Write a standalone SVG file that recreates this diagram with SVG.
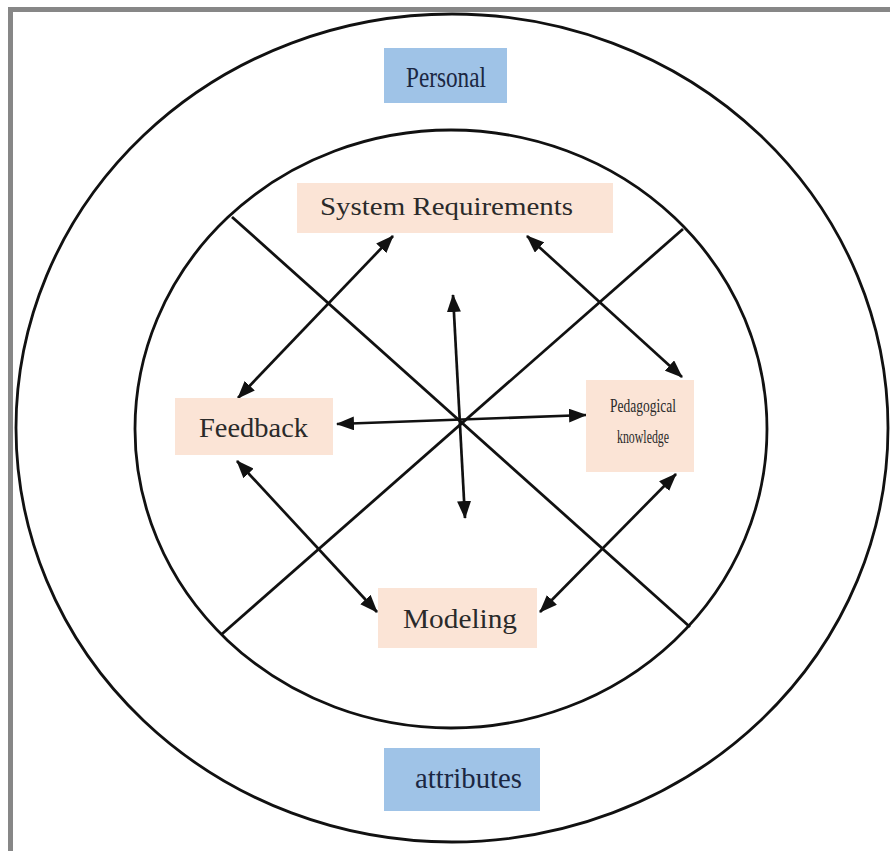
<svg xmlns="http://www.w3.org/2000/svg" width="890" height="851" viewBox="0 0 890 851">
  <defs>
    <marker id="head" viewBox="0 0 18 14" refX="17" refY="7" markerWidth="18" markerHeight="14" markerUnits="userSpaceOnUse" orient="auto-start-reverse">
      <path d="M0,0 L18,7 L0,14 Z" fill="#111"/>
    </marker>
    <style>
      .ring { fill: none; stroke: #111; stroke-width: 2.8; }
      .cross { stroke: #111; stroke-width: 2.8; }
      .link { stroke: #111; stroke-width: 2.7; fill: none; marker-start: url(#head); marker-end: url(#head); }
      .blue { fill: #9fc3e7; }
      .peach { fill: #fbe4d6; }
      .lbl { font-family: "Liberation Serif", "Times New Roman", serif; fill: #2a2a2a; }
      .blbl { font-family: "Liberation Serif", "Times New Roman", serif; fill: #1b2742; }
    </style>
  </defs>

  <!-- white page with grey frame along top and left -->
  <rect x="0" y="0" width="890" height="851" fill="#ffffff"/>
  <rect x="10.5" y="9.5" width="900" height="900" fill="none" stroke="#878787" stroke-width="5"/>

  <!-- rings -->
  <ellipse class="ring" cx="452" cy="428" rx="436" ry="414"/>
  <ellipse class="ring" cx="451" cy="429" rx="316" ry="299"/>

  <!-- cross dividing the inner ring -->
  <g id="cross">
    <line class="cross" x1="232" y1="217" x2="690" y2="627"/>
    <line class="cross" x1="683" y1="229" x2="222" y2="634"/>
  </g>

  <!-- connectors -->
  <g id="connectors">
    <line class="link" x1="453" y1="295" x2="465" y2="518"/>
    <line class="link" x1="337" y1="424" x2="586" y2="415"/>
    <line class="link" x1="393" y1="236" x2="238" y2="398"/>
    <line class="link" x1="527" y1="236" x2="682" y2="377"/>
    <line class="link" x1="237" y1="461" x2="377" y2="612"/>
    <line class="link" x1="676" y1="474" x2="540" y2="612"/>
  </g>

  <g id="personal">
    <rect class="blue" x="384" y="48" width="123" height="55"/>
    <text class="blbl" x="406" y="87" font-size="29" textLength="80" lengthAdjust="spacingAndGlyphs">Personal</text>
  </g>

  <g id="system-requirements">
    <rect class="peach" x="297" y="183" width="316" height="50"/>
    <text class="lbl" x="320" y="215" font-size="26" textLength="253" lengthAdjust="spacingAndGlyphs">System Requirements</text>
  </g>

  <g id="feedback">
    <rect class="peach" x="175" y="398" width="158" height="57"/>
    <text class="lbl" x="199" y="437" font-size="27" textLength="109" lengthAdjust="spacingAndGlyphs">Feedback</text>
  </g>

  <g id="pedagogical-knowledge">
    <rect class="peach" x="586" y="380" width="108" height="92"/>
    <text class="lbl" x="610" y="412" font-size="18" textLength="66" lengthAdjust="spacingAndGlyphs">Pedagogical</text>
    <text class="lbl" x="617" y="443" font-size="18" textLength="52" lengthAdjust="spacingAndGlyphs">knowledge</text>
  </g>

  <g id="modeling">
    <rect class="peach" x="378" y="588" width="159" height="60"/>
    <text class="lbl" x="403" y="628" font-size="27" textLength="114" lengthAdjust="spacingAndGlyphs">Modeling</text>
  </g>

  <g id="attributes">
    <rect class="blue" x="384" y="748" width="156" height="63"/>
    <text class="blbl" x="415" y="788" font-size="29" textLength="107" lengthAdjust="spacingAndGlyphs">attributes</text>
  </g>
</svg>
